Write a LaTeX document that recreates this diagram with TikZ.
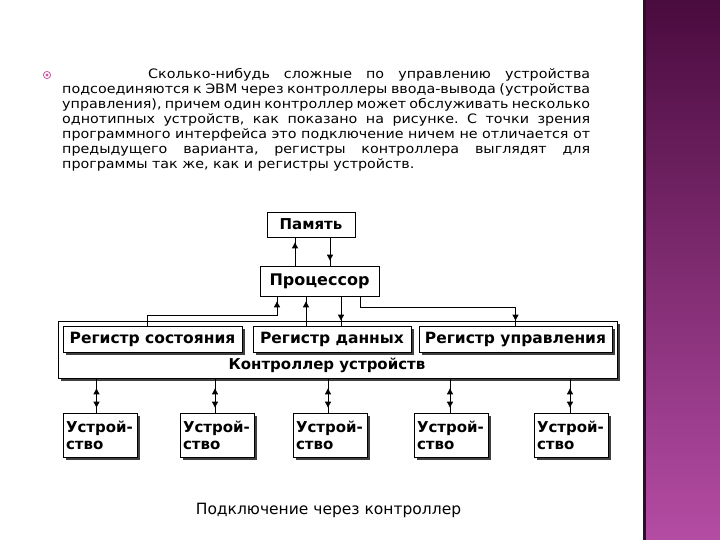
\documentclass[tikz,border=0pt]{standalone}
\usepackage{fontspec}
\usetikzlibrary{arrows.meta,shadows,decorations.markings}
\newfontfamily\slidefont{DejaVu Sans}
\newfontfamily\parafont{DejaVu Sans}[FakeStretch=1.1]
\frenchspacing
\definecolor{barTop}{RGB}{74,11,62}
\definecolor{barMid}{RGB}{122,42,110}
\definecolor{barBot}{RGB}{180,76,164}
\definecolor{barEdge}{RGB}{52,10,44}
\definecolor{bulletPink}{RGB}{204,84,164}
\tikzset{
  plainbox/.style={draw, fill=white, line width=0.8pt, inner sep=0pt, font=\slidefont\bfseries},
  shadebox/.style={plainbox, drop shadow={shadow xshift=2.5pt, shadow yshift=-2.5pt, fill=black!75, opacity=1}},
  regbox/.style={shadebox, minimum height=26pt, text height=11pt, text depth=3pt,
      font=\slidefont\bfseries\fontsize{15.5}{17}\selectfont},
  devbox/.style={shadebox, minimum width=74pt, minimum height=44pt, inner sep=3pt, text width=68pt,
      align=left, font=\slidefont\bfseries\fontsize{15}{17}\selectfont},
  link/.style={line width=0.9pt},
  tipend/.style={link, postaction={decorate}, decoration={markings,
      mark=at position -5pt with {\arrow{Triangle[length=6pt,width=6pt]}}}},
  tipboth/.style={link, postaction={decorate}, decoration={markings,
      mark=at position 10pt with {\arrowreversed{Triangle[length=6pt,width=6pt]}},
      mark=at position -5pt with {\arrow{Triangle[length=6pt,width=6pt]}}}}
}
\begin{document}
\begin{tikzpicture}[x=1pt,y=-1pt]
\useasboundingbox (0,0) rectangle (720,540);
\fill[white] (0,0) rectangle (720,540);
% side bar
\shade[top color=barTop, middle color=barMid, bottom color=barBot] (643,0) rectangle (720,540);
\fill[barEdge] (643,0) rectangle (646,540);
% bullet and text
\draw[bulletPink, line width=0.8pt] (47,75) circle (3.6);
\fill[bulletPink] (47,75) circle (1.6);
\node[anchor=north west, inner sep=0pt, align=left, font=\parafont\fontsize{13}{15}\selectfont] (para) at (62,68) {%
\makebox[528pt][s]{\hspace{86pt}Сколько-нибудь сложные по управлению устройства}\\
\makebox[528pt][s]{подсоединяются к ЭВМ через контроллеры ввода-вывода (устройства}\\
\makebox[528pt][s]{управления), причем один контроллер может обслуживать несколько}\\
\makebox[528pt][s]{однотипных устройств, как показано на рисунке. С точки зрения}\\
\makebox[528pt][s]{программного интерфейса это подключение ничем не отличается от}\\
\makebox[528pt][s]{предыдущего варианта, регистры контроллера выглядят для}\\
программы так же, как и регистры устройств.};
% memory and processor
\node[plainbox, minimum width=88pt, minimum height=25pt, font=\slidefont\bfseries\fontsize{15}{17}\selectfont] (mem) at (311,224.5) {Память};
\node[plainbox, minimum width=119pt, minimum height=30pt, font=\slidefont\bfseries\fontsize{16}{18}\selectfont] (cpu) at (319.5,281) {Процессор};
\draw[tipend] ([xshift=-24.5pt]cpu.north) -- ([xshift=-16pt]mem.south);
\draw[tipend] ([xshift=19pt]mem.south) -- ([xshift=10.5pt]cpu.north);
% controller
\node[shadebox, minimum width=559pt, minimum height=57pt] (ctrl) at (337.5,349.5) {};
\node[regbox, minimum width=179pt] (regst) at (152.5,339) {Регистр состояния};
\node[regbox, minimum width=158pt] (regdat) at (332,339) {Регистр данных};
\node[regbox, minimum width=193pt] (regctl) at (515.5,339) {Регистр управления};
\node[font=\slidefont\bfseries\fontsize{15}{17}\selectfont, inner sep=0pt] (ctrltxt) at (327,365) {Контроллер устройств};
\draw[tipend] ([xshift=-5.5pt]regst.north) -- ++(0,-10) -| ([xshift=-42.5pt]cpu.south);
\draw[tipend] ([xshift=-26pt]regdat.north) -- ([xshift=-13.5pt]cpu.south);
\draw[tipend] ([xshift=21.5pt]cpu.south) -- ([xshift=9pt]regdat.north);
\draw[tipend] ([xshift=40.5pt]cpu.south) -- ++(0,11) -| (regctl.north);
% devices
\node[devbox] (dev1) at (100,435) {\mbox{Устрой-}\\ство};
\node[devbox] (dev2) at (217,435) {\mbox{Устрой-}\\ство};
\node[devbox] (dev3) at (330,435) {\mbox{Устрой-}\\ство};
\node[devbox] (dev4) at (451,435) {\mbox{Устрой-}\\ство};
\node[devbox] (dev5) at (571,435) {\mbox{Устрой-}\\ство};
\draw[tipboth] ([xshift=-3.5pt]dev1.north |- ctrl.south) -- ([xshift=-3.5pt]dev1.north);
\draw[tipboth] ([xshift=-2pt]dev2.north |- ctrl.south) -- ([xshift=-2pt]dev2.north);
\draw[tipboth] ([xshift=-2pt]dev3.north |- ctrl.south) -- ([xshift=-2pt]dev3.north);
\draw[tipboth] ([xshift=-1pt]dev4.north |- ctrl.south) -- ([xshift=-1pt]dev4.north);
\draw[tipboth] ([xshift=-1pt]dev5.north |- ctrl.south) -- ([xshift=-1pt]dev5.north);
% caption
\node[font=\slidefont\fontsize{15.5}{18}\selectfont, inner sep=0pt] (caption) at (328.5,510) {Подключение через контроллер};
\end{tikzpicture}
\end{document}
